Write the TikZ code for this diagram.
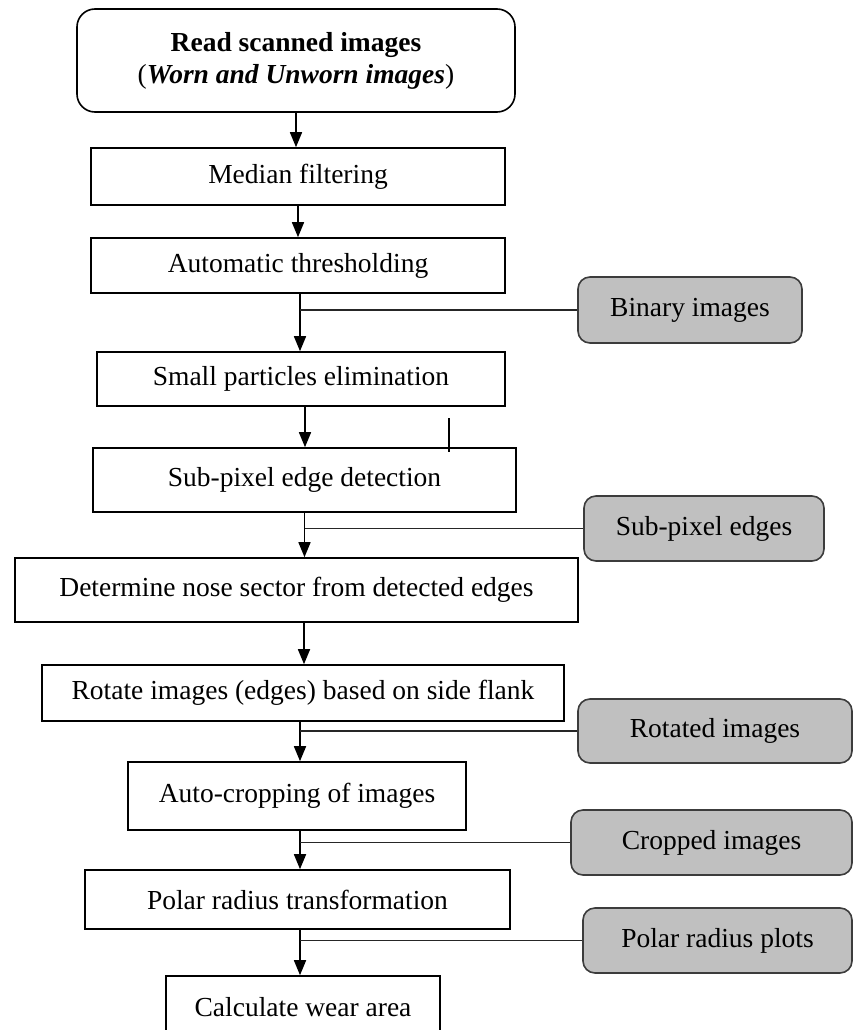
\documentclass[tikz,border=0pt]{standalone}
\usepackage{fontspec}
\setmainfont{Liberation Serif}
\usetikzlibrary{arrows.meta}
\definecolor{outgray}{RGB}{192,192,192}
\definecolor{edgegray}{RGB}{60,60,60}
\tikzset{
  procbox/.style={draw, line width=1.6pt, inner sep=0pt, align=center, font=\fontsize{27.5}{32}\selectfont},
  outbox/.style={draw=edgegray, fill=outgray, rounded corners=12pt, line width=1.6pt, inner sep=0pt, align=center, font=\fontsize{27.5}{32}\selectfont},
  arr/.style={-{Triangle[length=15pt,width=12pt]}, line width=1.6pt},
  tap/.style={draw=black!85, line width=1.8pt}
}
\begin{document}
\begin{tikzpicture}[x=1pt, y=-1pt]
        \useasboundingbox (0,0) rectangle (853,1030);

        % Chaine principale
        \node[procbox, rounded corners=18pt, minimum width=438pt, minimum height=103pt] (read) at (296,60.5) {\textbf{Read scanned images}\\(\textbf{\textit{Worn and Unworn images}})};
        \node[procbox, minimum width=414pt, minimum height=57pt] (median) at (298,176.5) {Median filtering};
        \node[procbox, minimum width=414pt, minimum height=55pt] (thresh) at (298,265.5) {Automatic thresholding};
        \node[procbox, minimum width=408pt, minimum height=54pt] (small) at (301,379) {Small particles elimination};
        \node[procbox, minimum width=423pt, minimum height=64pt] (subpix) at (304.5,480) {Sub-pixel edge detection};
        \node[procbox, minimum width=563pt, minimum height=64pt] (nose) at (296.5,590) {Determine nose sector from detected edges};
        \node[procbox, minimum width=522pt, minimum height=56pt] (rotate) at (303,693) {Rotate images (edges) based on side flank};
        \node[procbox, minimum width=338pt, minimum height=68pt] (crop) at (297,796) {Auto-cropping of images};
        \node[procbox, minimum width=425pt, minimum height=59pt] (polar) at (297.5,899.5) {Polar radius transformation};
        \node[procbox, minimum width=274pt, minimum height=70pt, text depth=0pt] (wear) at (303,1011) {\raisebox{8pt}{Calculate wear area}};

        % Sorties intermediaires
        \node[outbox, minimum width=224pt, minimum height=66pt] (binary) at (690,310) {Binary images};
        \node[outbox, minimum width=240pt, minimum height=65pt] (edges) at (704,528.5) {Sub-pixel edges};
        \node[outbox, minimum width=274pt, minimum height=64pt] (rotated) at (715,731) {Rotated images};
        \node[outbox, minimum width=281pt, minimum height=65pt] (cropped) at (711.5,842.5) {Cropped images};
        \node[outbox, minimum width=269pt, minimum height=65pt] (plots) at (717.5,940.5) {Polar radius plots};

        % Fleches entre etapes
        \draw[arr] (read.south) -- (read.south |- median.north);
        \draw[arr] (median.south) -- (median.south |- thresh.north);
        \draw[arr] ([xshift=2pt]thresh.south) -- ([xshift=2pt]thresh.south |- small.north);
        \draw[arr] ([xshift=4pt]small.south) -- ([xshift=4pt]small.south |- subpix.north);
        \draw[arr] (subpix.south) -- (subpix.south |- nose.north);
        \draw[arr] ([xshift=7.5pt]nose.south) -- ([xshift=7.5pt]nose.south |- rotate.north);
        \draw[arr] ([xshift=-3pt]rotate.south) -- ([xshift=-3pt]rotate.south |- crop.north);
        \draw[arr] ([xshift=3pt]crop.south) -- ([xshift=3pt]crop.south |- polar.north);
        \draw[arr] ([xshift=2.5pt]polar.south) -- ([xshift=2.5pt]polar.south |- wear.north);

        % Branches vers les sorties
        \draw[tap] (binary.west) -- (binary.west -| 300,0);
        \draw[tap] (edges.west) -- (edges.west -| subpix.south);
        \draw[tap] (rotated.west) -- (rotated.west -| 300,0);
        \draw[tap] (cropped.west) -- (cropped.west -| 300,0);
        \draw[tap] (plots.west) -- (plots.west -| 300,0);

        % trait isole au-dessus de la detection
        \draw[line width=1.4pt] (449,418) -- (449,452);
    \end{tikzpicture}
\end{document}
